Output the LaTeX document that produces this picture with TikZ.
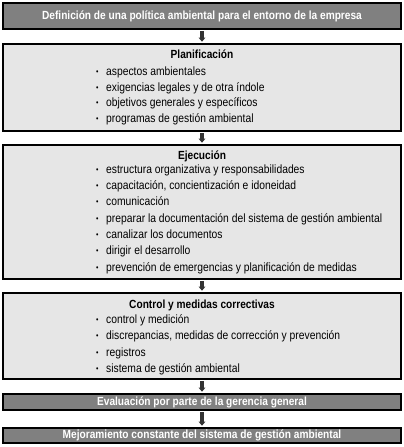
\documentclass[tikz,border=0pt]{standalone}
\usepackage{fontspec}
\setmainfont{Liberation Sans}[FakeStretch=0.86]
\usepackage{xcolor}
\usepackage{tikz}
\usetikzlibrary{arrows.meta,positioning}
\definecolor{boxdark}{RGB}{128,128,128}
\definecolor{boxlight}{RGB}{230,230,230}
\newcommand{\itembul}{\makebox[10pt][l]{\raisebox{0.15ex}{\footnotesize\textbullet}}}
\tikzset{
  dark box/.style={rectangle,draw,line width=1.6pt,fill=boxdark,minimum width=398pt,inner sep=0pt,text=white,font=\bfseries\fontsize{11.8}{13}\selectfont},
  light box/.style={rectangle,draw,line width=1.6pt,fill=boxlight,minimum width=398pt,inner sep=0pt},
  box head/.style={inner sep=0pt,text height=8.5pt,text depth=0pt,font=\bfseries\fontsize{11.8}{13}\selectfont},
  box item/.style={anchor=west,inner sep=0pt,text height=8.6pt,text depth=0pt,font=\fontsize{12}{13}\selectfont},
  flow arrow/.style={-{Triangle[width=6.5pt,length=4pt]},line width=3.2pt,black!80}
}
\begin{document}
\begin{tikzpicture}[x=1pt,y=-1pt]
  \useasboundingbox (0,0) rectangle (404,447);
  % boxes
  \node[dark box,minimum height=26pt] (polbox) at (202,16) {Definición de una política ambiental para el entorno de la empresa};
  \node[light box,minimum height=87pt] (plabox) at (202,87.5) {};
  \node[light box,minimum height=134pt] (ejebox) at (202,212) {};
  \node[light box,minimum height=86pt] (conbox) at (202,336) {};
  \node[dark box,minimum height=16pt] (evabox) at (202,402) {Evaluación por parte de la gerencia general};
  \node[dark box,minimum height=15pt] (mejbox) at (202,435.5) {Mejoramiento constante del sistema de gestión ambiental};
  % headers and items
  \node[box head] (plahead) at (202,54) {Planificación};
  \foreach \y/\txt [count=\i] in {71/aspectos ambientales, 86.7/exigencias legales y de otra índole,
      102.4/objetivos generales y específicos, 118.1/programas de gestión ambiental}{
    \node[box item] (pla-\i) at (96,\y) {\itembul\txt};}
  \node[box head] (ejehead) at (202,155) {Ejecución};
  \foreach \y/\txt [count=\i] in {169/estructura organizativa y responsabilidades,
      185.3/{capacitación, concientización e idoneidad}, 201.6/comunicación,
      218/preparar la documentación del sistema de gestión ambiental, 234.2/canalizar los documentos,
      250.5/dirigir el desarrollo, 266.8/prevención de emergencias y planificación de medidas}{
    \node[box item] (eje-\i) at (96,\y) {\itembul\txt};}
  \node[box head] (conhead) at (202,304) {Control y medidas correctivas};
  \foreach \y/\txt [count=\i] in {319/control y medición, 335.5/{discrepancias, medidas de corrección y prevención},
      352/registros, 368.5/sistema de gestión ambiental}{
    \node[box item] (con-\i) at (96,\y) {\itembul\txt};}
  % arrows
  \draw[flow arrow] ([yshift=-1.5pt]polbox.south) -- ([yshift=1.5pt]plabox.north);
  \draw[flow arrow] ([yshift=-1.5pt]plabox.south) -- ([yshift=1.5pt]ejebox.north);
  \draw[flow arrow] ([yshift=-1.5pt]ejebox.south) -- ([yshift=1.5pt]conbox.north);
  \draw[flow arrow] ([yshift=-1.5pt]conbox.south) -- ([yshift=1.5pt]evabox.north);
  \draw[flow arrow] ([yshift=-1.5pt]evabox.south) -- ([yshift=1.5pt]mejbox.north);
\end{tikzpicture}
\end{document}
